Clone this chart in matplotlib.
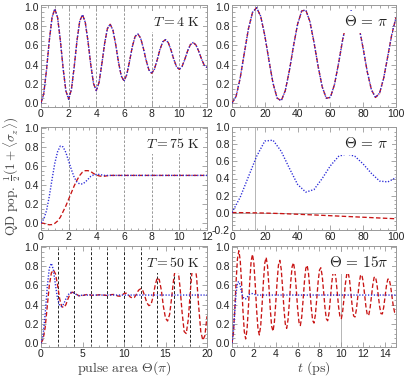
import numpy as np
import matplotlib
matplotlib.use("Agg")
import matplotlib.pyplot as plt
from matplotlib.ticker import MultipleLocator

plt.rcParams['font.family'] = ['Liberation Sans', 'DejaVu Sans']
plt.rcParams['mathtext.fontset'] = 'cm'
plt.rcParams['axes.unicode_minus'] = False

# --- T = 4 K, population vs pulse area (red and blue coincide)
theta_4K = np.linspace(0, 12, 61)
pop_4K = [0.000, 0.099, 0.348, 0.651, 0.892, 0.980, 0.889, 0.651, 0.360, 0.126,
          0.040, 0.143, 0.377, 0.648, 0.853, 0.920, 0.840, 0.640, 0.396, 0.202,
          0.130, 0.218, 0.409, 0.621, 0.775, 0.820, 0.759, 0.609, 0.427, 0.283,
          0.230, 0.296, 0.434, 0.586, 0.693, 0.720, 0.676, 0.571, 0.445, 0.346,
          0.310, 0.354, 0.450, 0.558, 0.637, 0.660, 0.629, 0.550, 0.455, 0.379,
          0.350, 0.382, 0.456, 0.543, 0.608, 0.630, 0.605, 0.540, 0.460, 0.395,
          0.370]

# --- Theta = pi, population vs time (T = 4 K)
t_pi_4K = np.linspace(0, 100, 41)
pop_pi_4K = [0.000, 0.071, 0.262, 0.520, 0.770, 0.943, 0.992, 0.903, 0.703, 0.447,
             0.208, 0.053, 0.025, 0.130, 0.339, 0.594, 0.821, 0.958, 0.968, 0.848,
             0.633, 0.383, 0.169, 0.051, 0.060, 0.195, 0.415, 0.661, 0.861, 0.961,
             0.934, 0.788, 0.565, 0.325, 0.140, 0.059, 0.104, 0.261, 0.488, 0.719,
             0.890]

# --- T = 75 K
theta_75K = np.r_[np.linspace(0, 5, 26), np.arange(6, 13)]
blue_75K = [0.000, 0.040, 0.130, 0.280, 0.460, 0.630, 0.750, 0.810, 0.800, 0.740,
            0.650, 0.560, 0.480, 0.430, 0.410, 0.410, 0.430, 0.460, 0.490, 0.505,
            0.510, 0.510, 0.505, 0.500, 0.500, 0.500,
            0.500, 0.500, 0.500, 0.500, 0.500, 0.500, 0.500]
red_75K = [0.000, -0.005, -0.015, -0.020, -0.018, -0.005, 0.020, 0.060, 0.120, 0.180,
           0.250, 0.320, 0.390, 0.450, 0.500, 0.535, 0.550, 0.550, 0.540, 0.520,
           0.505, 0.495, 0.490, 0.492, 0.497, 0.500,
           0.500, 0.500, 0.500, 0.500, 0.500, 0.500, 0.500]

# --- Theta = pi, T = 75 K
t_pi_75K = np.linspace(0, 100, 21)
blue_pi_75K = [0.000, 0.180, 0.420, 0.660, 0.840, 0.850, 0.720, 0.520, 0.330, 0.240,
               0.270, 0.400, 0.550, 0.660, 0.690, 0.660, 0.570, 0.460, 0.370, 0.360,
               0.410]
t_red_pi_75K = np.linspace(0, 100, 11)
red_pi_75K = [0.000, -0.002, -0.006, -0.012, -0.020, -0.028, -0.037, -0.046, -0.055,
              -0.064, -0.073]

# --- T = 50 K
theta_50K = np.linspace(0, 20, 81)
red_50K = [0.000, 0.040, 0.160, 0.380, 0.600, 0.730, 0.760, 0.720, 0.600, 0.460,
           0.380, 0.370, 0.400, 0.460, 0.510, 0.530, 0.525, 0.510, 0.495, 0.490,
           0.495, 0.500, 0.505, 0.505, 0.500, 0.497, 0.497, 0.500, 0.503, 0.503,
           0.500, 0.497, 0.496, 0.500, 0.505, 0.506, 0.500, 0.490, 0.488, 0.500,
           0.515, 0.520, 0.505, 0.480, 0.470, 0.475, 0.510, 0.550, 0.565, 0.550,
           0.490, 0.420, 0.390, 0.400, 0.480, 0.600, 0.680, 0.660, 0.550, 0.380,
           0.260, 0.230, 0.300, 0.480, 0.680, 0.800, 0.780, 0.580, 0.320, 0.120,
           0.100, 0.250, 0.550, 0.800, 0.850, 0.680, 0.380, 0.120, 0.030, 0.080,
           0.280]
theta_blue_50K = np.r_[np.linspace(0, 5, 21), np.arange(6, 21)]
blue_50K = [0.000, 0.080, 0.300, 0.580, 0.780, 0.830, 0.760, 0.600, 0.460, 0.390,
            0.380, 0.410, 0.460, 0.500, 0.525, 0.530, 0.520, 0.505, 0.495, 0.495,
            0.500,
            0.500, 0.500, 0.500, 0.500, 0.500, 0.500, 0.500, 0.500, 0.500, 0.500,
            0.500, 0.500, 0.500, 0.500, 0.500]

# --- Theta = 15 pi, T = 50 K
t_15pi = np.linspace(0, 15, 121)
red_15pi = [0.000, 0.098, 0.344, 0.642, 0.877, 0.961, 0.864, 0.627, 0.342, 0.120,
            0.044, 0.141, 0.370, 0.643, 0.853, 0.923, 0.829, 0.609, 0.348, 0.149,
            0.085, 0.180, 0.393, 0.643, 0.833, 0.891, 0.799, 0.593, 0.355, 0.176,
            0.124, 0.216, 0.414, 0.642, 0.813, 0.861, 0.771, 0.579, 0.360, 0.198,
            0.154, 0.244, 0.431, 0.641, 0.796, 0.836, 0.747, 0.566, 0.364, 0.218,
            0.183, 0.270, 0.445, 0.639, 0.778, 0.809, 0.723, 0.554, 0.368, 0.236,
            0.209, 0.293, 0.457, 0.635, 0.759, 0.784, 0.700, 0.542, 0.372, 0.254,
            0.233, 0.314, 0.466, 0.628, 0.740, 0.758, 0.678, 0.531, 0.376, 0.271,
            0.255, 0.333, 0.473, 0.621, 0.720, 0.734, 0.657, 0.520, 0.377, 0.283,
            0.272, 0.347, 0.478, 0.613, 0.702, 0.711, 0.637, 0.510, 0.379, 0.295,
            0.288, 0.360, 0.481, 0.605, 0.684, 0.688, 0.618, 0.500, 0.382, 0.307,
            0.304, 0.373, 0.484, 0.596, 0.665, 0.666, 0.599, 0.492, 0.386, 0.320,
            0.321]
t_blue_15pi = np.r_[np.linspace(0, 2.25, 19), np.arange(3, 16)]
blue_15pi = [0.000, 0.120, 0.320, 0.520, 0.630, 0.640, 0.600, 0.530, 0.480, 0.460,
             0.460, 0.475, 0.495, 0.510, 0.515, 0.515, 0.510, 0.505, 0.500,
             0.500, 0.500, 0.500, 0.500, 0.500, 0.500, 0.500, 0.500, 0.500, 0.500,
             0.500, 0.500, 0.500]

RED = '#c81414'
BLUE = '#2a2ad8'
FRAME = '#999999'


def red(ax, x, y):
    ax.plot(x, y, color=RED, lw=0.95, dashes=(3.4, 1.8), zorder=3)


def blue(ax, x, y):
    ax.plot(x, y, color=BLUE, lw=1.0, dashes=(0.9, 1.2), zorder=4)


def style(ax, xlim, ylim, xmaj, xmin, ymaj=0.2, ymin=0.05):
    ax.set_xlim(*xlim)
    ax.set_ylim(*ylim)
    ax.xaxis.set_major_locator(MultipleLocator(xmaj))
    ax.xaxis.set_minor_locator(MultipleLocator(xmin))
    ax.yaxis.set_major_locator(MultipleLocator(ymaj))
    ax.yaxis.set_minor_locator(MultipleLocator(ymin))
    ax.yaxis.set_major_formatter('{x:.1f}')
    ax.tick_params(which='both', direction='in', top=True, right=True,
                   color=FRAME, width=0.6, labelsize=7.5, labelcolor='#222222', pad=1.5)
    ax.tick_params(which='major', length=3.5)
    ax.tick_params(which='minor', length=1.8)
    for s in ax.spines.values():
        s.set_color(FRAME)
        s.set_linewidth(0.7)


def label(ax, txt, size=10):
    ax.text(0.955, 0.835, txt, transform=ax.transAxes, ha='right', va='center',
            fontsize=size, color='#222222', zorder=6,
            bbox=dict(facecolor='white', edgecolor='none', pad=2.5))


fig = plt.figure(figsize=(4.07, 3.76), dpi=100)
W, H = 407.0, 376.0
cols = [(41, 207), (232, 396)]
rows = [(5, 107), (127, 230), (246, 347)]
axs = [[fig.add_axes([c[0] / W, 1 - r[1] / H, (c[1] - c[0]) / W, (r[1] - r[0]) / H])
        for c in cols] for r in rows]

# row 1
ax = axs[0][0]
for v in range(2, 12, 2):
    ax.axvline(v, color='#888888', lw=0.6, dashes=(3, 2), zorder=1)
red(ax, theta_4K, pop_4K)
blue(ax, theta_4K, pop_4K)
style(ax, (0, 12), (-0.04, 1.02), 2, 0.5)
label(ax, r'$T = 4\ \mathrm{K}$')

ax = axs[0][1]
ax.axvline(14, color='#aaaaaa', lw=0.6, zorder=1)
red(ax, t_pi_4K, pop_pi_4K)
blue(ax, t_pi_4K, pop_pi_4K)
style(ax, (0, 100), (-0.04, 1.02), 20, 5)
label(ax, r'$\Theta\,=\,\pi$', 11)

# row 2
ax = axs[1][0]
for v in range(2, 12, 2):
    ax.axvline(v, color='#888888', lw=0.6, dashes=(3, 2), zorder=1)
red(ax, theta_75K, red_75K)
blue(ax, theta_75K, blue_75K)
style(ax, (0, 12), (-0.075, 1.01), 2, 0.5)
label(ax, r'$T = 75\ \mathrm{K}$')

ax = axs[1][1]
ax.axvline(14, color='#aaaaaa', lw=0.6, zorder=1)
ax.axhline(0, color='#aaaaaa', lw=0.6, zorder=1)
red(ax, t_red_pi_75K, red_pi_75K)
blue(ax, t_pi_75K, blue_pi_75K)
style(ax, (0, 100), (-0.205, 1.005), 20, 5)
label(ax, r'$\Theta\,=\,\pi$', 11)

# row 3
ax = axs[2][0]
for v in range(2, 20, 2):
    ax.axvline(v, color='#222222', lw=0.7, dashes=(3, 2), zorder=1)
red(ax, theta_50K, red_50K)
blue(ax, theta_blue_50K, blue_50K)
style(ax, (0, 20), (-0.04, 1.01), 5, 1)
label(ax, r'$T = 50\ \mathrm{K}$')
ax.set_xlabel(r'$\mathrm{pulse\ area}\ \Theta(\pi)$', fontsize=10, color='#444444', labelpad=0)

ax = axs[2][1]
ax.axvline(10, color='#aaaaaa', lw=0.6, zorder=1)
red(ax, t_15pi, red_15pi)
blue(ax, t_blue_15pi, blue_15pi)
style(ax, (0, 15), (-0.04, 1.01), 2, 0.5)
label(ax, r'$\Theta\,=\,15\pi$', 11)
ax.set_xlabel(r'$t\ (\mathrm{ps})$', fontsize=10, color='#444444', labelpad=0)

fig.text(0.03, 0.53, r'$\mathrm{QD\ pop.}\ \frac{1}{2}(1+\langle\sigma_z\rangle)$',
         rotation=90, ha='center', va='center', fontsize=9.5, color='#444444')

fig.savefig('out.png', dpi=100)
